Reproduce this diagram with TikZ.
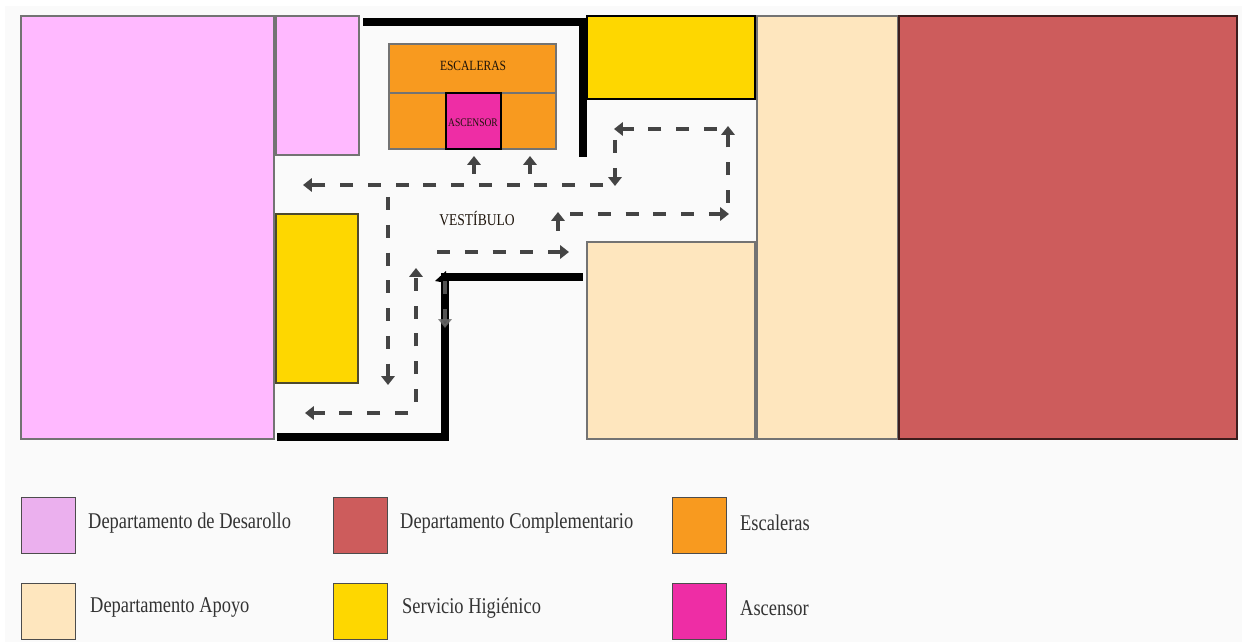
\documentclass[tikz,border=0pt]{standalone}
\usepackage{fontspec}
\setmainfont{Liberation Serif}[FakeStretch=0.82]
\usepackage{tikz}
\usetikzlibrary{arrows.meta}

\definecolor{fondo}{HTML}{FAFAFA}
\definecolor{rosa}{HTML}{FFB9FF}
\definecolor{rosaley}{HTML}{EBB0EE}
\definecolor{rojo}{HTML}{CD5C5C}
\definecolor{naranja}{HTML}{F89A1F}
\definecolor{crema}{HTML}{FEE6BE}
\definecolor{amarillo}{HTML}{FED700}
\definecolor{magenta}{HTML}{EE2DA5}
\definecolor{gris}{HTML}{444444}

\begin{document}
\begin{tikzpicture}[x=0.02cm,y=-0.02cm,
    room/.style={draw=black!55, line width=0.6pt},
    wall/.style={line width=4.4pt},
    flow/.style={draw=gris, line width=2.6pt, dash pattern=on 7.5pt off 8.3pt,
        -{Triangle[length=5pt,width=7.5pt]}},
    legbox/.style={draw=black!70, line width=0.6pt, minimum width=54*0.02cm,
        minimum height=56*0.02cm, inner sep=0pt},
    legtext/.style={right, font=\fontsize{12.8}{14}\selectfont, text=black!80},
    maptext/.style={text=black!85!brown}]

  % 绘制背景
  \fill[white] (0,0) rectangle (1242,642);
  \fill[fondo] (5,6) rectangle (1242,642);

  % 绘制各个房间
  \draw[room, fill=rosa] (21,16) rectangle (274,439);
  \draw[room, fill=rosa] (276,16) rectangle (359,155);
  \draw[room, fill=amarillo, draw=black!60!olive] (276,214) rectangle (358,383);
  \draw[room, fill=amarillo, draw=black] (587,16) rectangle (755,99);
  \draw[room, fill=crema] (587,242) rectangle (755,439);
  \draw[room, fill=crema] (757,16) rectangle (898,439);
  \draw[room, fill=rojo, draw=black!70!rojo] (899,16) rectangle (1237,439);

  % 绘制楼梯和电梯
  \draw[room, fill=naranja] (389,44) rectangle (556,93);
  \draw[room, fill=naranja] (389,93) rectangle (446,149);
  \draw[room, fill=naranja] (501,93) rectangle (556,149);
  \draw[room, fill=magenta, draw=black, line width=0.9pt] (446,93) rectangle (501,149);
  \node[maptext, font=\fontsize{8}{9}\selectfont] (escaleras) at (473,66) {ESCALERAS};
  \node[maptext, font=\fontsize{6.6}{8}\selectfont] (ascensor) at (473,123) {ASCENSOR};
  \node[maptext, font=\fontsize{9.4}{11}\selectfont] (vestibulo) at (477,219) {VESTÍBULO};

  % 绘制墙
  \draw[wall] (363,22) -- (583,22) -- (583,157);
  \draw[wall] (583,277) -- (445,277) -- (445,437) -- (277,437);
  \fill (435,281) -- (446,271) -- (446,283) -- cycle;

  % 绘制流线箭头
  \draw[flow] (728,203) -- (728,126);
  \draw[flow] (717,129) -- (614,129);
  \draw[flow] (615,140) -- (615,186);
  \draw[flow] (603,185) -- (303,185);
  \draw[flow] (474,174) -- (474,156);
  \draw[flow] (530,174) -- (530,156);
  \draw[flow] (388,197) -- (388,385);
  \draw[flow] (408,413) -- (305,413);
  \draw[flow] (416,402) -- (416,268);
  \draw[flow] (437,252) -- (569,252);
  \draw[flow] (558,231) -- (558,212);
  \draw[flow] (570,214) -- (729,214);
  \draw[flow, draw=gris!80, opacity=0.8] (445,281) -- (445,328);

  % 绘制图例
  \node[legbox, fill=rosaley, anchor=north west] (leg1) at (21,497) {};
  \node[legbox, fill=rojo, anchor=north west] (leg2) at (333,497) {};
  \node[legbox, fill=naranja, anchor=north west] (leg3) at (672,497) {};
  \node[legbox, fill=crema, anchor=north west] (leg4) at (21,583) {};
  \node[legbox, fill=amarillo, anchor=north west] (leg5) at (333,583) {};
  \node[legbox, fill=magenta, anchor=north west] (leg6) at (672,583) {};
  \node[legtext] (txt1) at (82,523) {Departamento de Desarollo};
  \node[legtext] (txt2) at (394,523) {Departamento Complementario};
  \node[legtext] (txt3) at (734,523) {Escaleras};
  \node[legtext] (txt4) at (84,608) {Departamento Apoyo};
  \node[legtext] (txt5) at (396,608) {Servicio Higiénico};
  \node[legtext] (txt6) at (734,608) {Ascensor};
\end{tikzpicture}
\end{document}
